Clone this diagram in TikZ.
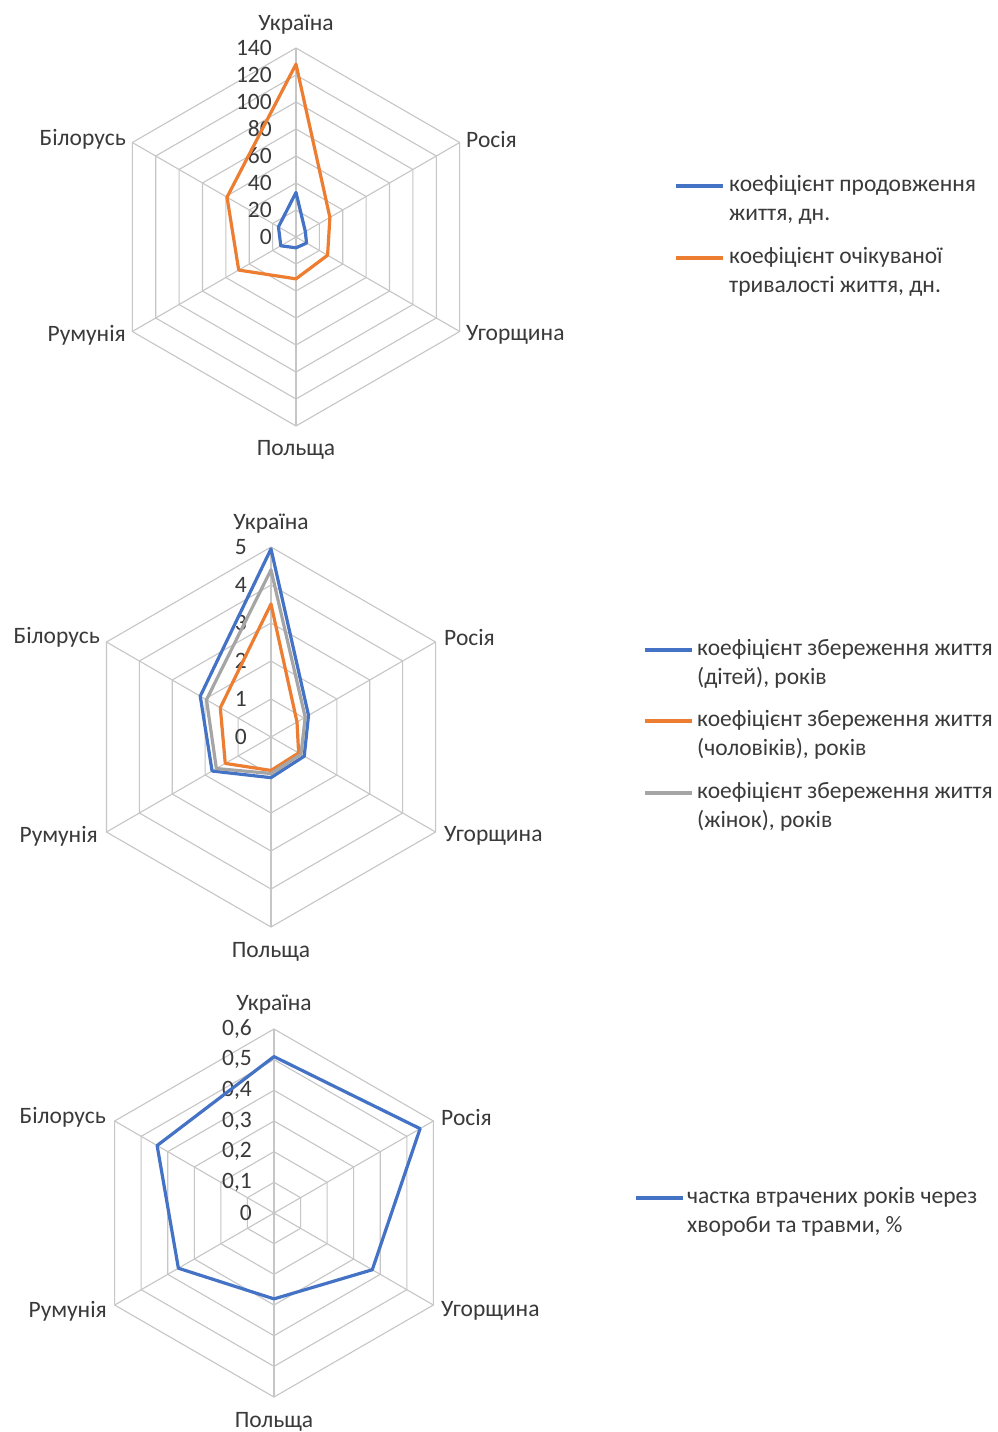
\documentclass[tikz,border=0pt]{standalone}
\usepackage{fontspec}
\setmainfont{Carlito}
\usetikzlibrary{positioning}
\definecolor{xlblue}{HTML}{4472C4}
\definecolor{xlorange}{HTML}{ED7D31}
\definecolor{xlgray}{HTML}{A5A5A5}
\definecolor{gridgray}{HTML}{C6C6C6}
\definecolor{txt}{HTML}{3A3A3A}
\tikzset{
  gridline/.style={draw=gridgray,line width=1.1pt},
  series/.style={line width=3.2pt,line join=round},
  tick/.style={text=txt,anchor=east,inner sep=0pt},
  country/.style={text=txt,inner sep=0pt},
  legtext/.style={text=txt,align=left,anchor=north west,inner sep=0pt},
  legline/.style={line width=3.2pt},
}
\begin{document}
\begin{tikzpicture}[x=1pt,y=1pt,font=\fontsize{23.5}{28.8}\selectfont]
\useasboundingbox[fill=white] (0,0) rectangle (998,-1432);
% --- chart 1
\begin{scope}[shift={(296,-237)}]
  \foreach \k in {1,...,7}
    \draw[gridline] (90:{\k*27}) -- (30:{\k*27}) -- (-30:{\k*27}) -- (-90:{\k*27})
      -- (-150:{\k*27}) -- (150:{\k*27}) -- cycle;
  \foreach \a in {90,30,-30,-90,-150,150}
    \draw[gridline] (0,0) -- (\a:189);
  \foreach \t [count=\k from 0] in {0,20,40,60,80,100,120,140}
    \node[tick] (ta\k) at (-24,{\k*27}) {\t};
  \foreach \v [count=\i] in {33,8,9,8,13,15}
    \coordinate (pa\i) at ({150-60*\i}:{\v*1.35});
  \foreach \v [count=\i] in {128,29,27,31,49,59}
    \coordinate (qa\i) at ({150-60*\i}:{\v*1.35});
  \draw[series,xlblue] (pa1) -- (pa2) -- (pa3) -- (pa4) -- (pa5) -- (pa6) -- cycle;
  \draw[series,xlorange] (qa1) -- (qa2) -- (qa3) -- (qa4) -- (qa5) -- (qa6) -- cycle;
  \node[country] (ua1) at (0,212) {Україна};
  \node[country,anchor=west] (ru1) at (170,98) {Росія};
  \node[country,anchor=west] (hu1) at (170,-98) {Угорщина};
  \node[country] (pl1) at (0,-213) {Польща};
  \node[country,anchor=east] (ro1) at (-170,-98) {Румунія};
  \node[country,anchor=east] (by1) at (-170,98) {Білорусь};
\end{scope}
\draw[legline,xlblue] (676,-186) -- (723,-186) coordinate (ka1);
\node[legtext] (la1) at ([xshift=6,yshift=10.5]ka1) {коефіцієнт продовження\\життя, дн.};
\draw[legline,xlorange] (676,-258) -- (723,-258) coordinate (ka2);
\node[legtext] (la2) at ([xshift=6,yshift=10.5]ka2) {коефіцієнт очікуваної\\тривалості життя, дн.};
% --- chart 2
\begin{scope}[shift={(271,-737)}]
  \foreach \k in {1,...,5}
    \draw[gridline] (90:{\k*38}) -- (30:{\k*38}) -- (-30:{\k*38}) -- (-90:{\k*38})
      -- (-150:{\k*38}) -- (150:{\k*38}) -- cycle;
  \foreach \a in {90,30,-30,-90,-150,150}
    \draw[gridline] (0,0) -- (\a:190);
  \foreach \t [count=\k from 0] in {0,1,2,3,4,5}
    \node[tick] (tb\k) at (-24,{\k*38}) {\t};
  \foreach \v [count=\i] in {4.95,1.14,1.01,1.07,1.79,2.15}
    \coordinate (pb\i) at ({150-60*\i}:{\v*38});
  \foreach \v [count=\i] in {3.5,0.79,0.84,0.88,1.39,1.54}
    \coordinate (qb\i) at ({150-60*\i}:{\v*38});
  \foreach \v [count=\i] in {4.4,1.04,0.91,0.96,1.66,1.96}
    \coordinate (rb\i) at ({150-60*\i}:{\v*38});
  \draw[series,xlblue] (pb1) -- (pb2) -- (pb3) -- (pb4) -- (pb5) -- (pb6) -- cycle;
  \draw[series,xlorange] (qb1) -- (qb2) -- (qb3) -- (qb4) -- (qb5) -- (qb6) -- cycle;
  \draw[series,xlgray] (rb1) -- (rb2) -- (rb3) -- (rb4) -- (rb5) -- (rb6) -- cycle;
  \node[country] (ua2) at (0,213) {Україна};
  \node[country,anchor=west] (ru2) at (173,100) {Росія};
  \node[country,anchor=west] (hu2) at (173,-99) {Угорщина};
  \node[country] (pl2) at (0,-215) {Польща};
  \node[country,anchor=east] (ro2) at (-173,-99) {Румунія};
  \node[country,anchor=east] (by2) at (-171,100) {Білорусь};
\end{scope}
\draw[legline,xlblue] (645,-650) -- (692,-650) coordinate (kb1);
\node[legtext] (lb1) at ([xshift=5,yshift=10.5]kb1) {коефіцієнт збереження життя\\(дітей), років};
\draw[legline,xlorange] (645,-721) -- (692,-721) coordinate (kb2);
\node[legtext] (lb2) at ([xshift=5,yshift=10.5]kb2) {коефіцієнт збереження життя\\(чоловіків), років};
\draw[legline,xlgray] (645,-793) -- (692,-793) coordinate (kb3);
\node[legtext] (lb3) at ([xshift=5,yshift=10.5]kb3) {коефіцієнт збереження життя\\(жінок), років};
% --- chart 3
\begin{scope}[shift={(274,-1213)}]
  \foreach \k in {1,...,6}
    \draw[gridline] (90:{\k*30.67}) -- (30:{\k*30.67}) -- (-30:{\k*30.67}) -- (-90:{\k*30.67})
      -- (-150:{\k*30.67}) -- (150:{\k*30.67}) -- cycle;
  \foreach \a in {90,30,-30,-90,-150,150}
    \draw[gridline] (0,0) -- (\a:184);
  \foreach \t [count=\k from 0] in {0,{0,1},{0,2},{0,3},{0,4},{0,5},{0,6}}
    \node[tick] (tc\k) at (-22,{\k*30.67}) {\t};
  \foreach \v [count=\i] in {0.51,0.55,0.37,0.28,0.36,0.44}
    \coordinate (pc\i) at ({150-60*\i}:{\v*306.7});
  \draw[series,xlblue] (pc1) -- (pc2) -- (pc3) -- (pc4) -- (pc5) -- (pc6) -- cycle;
  \node[country] (ua3) at (0,208) {Україна};
  \node[country,anchor=west] (ru3) at (167,96) {Росія};
  \node[country,anchor=west] (hu3) at (167,-98) {Угорщина};
  \node[country] (pl3) at (0,-209) {Польща};
  \node[country,anchor=east] (ro3) at (-167,-98) {Румунія};
  \node[country,anchor=east] (by3) at (-168,96) {Білорусь};
\end{scope}
\draw[legline,xlblue] (636,-1198) -- (683,-1198) coordinate (kc1);
\node[legtext] (lc1) at ([xshift=4,yshift=10.5]kc1) {частка втрачених років через\\хвороби та травми, \%};
\end{tikzpicture}
\end{document}
